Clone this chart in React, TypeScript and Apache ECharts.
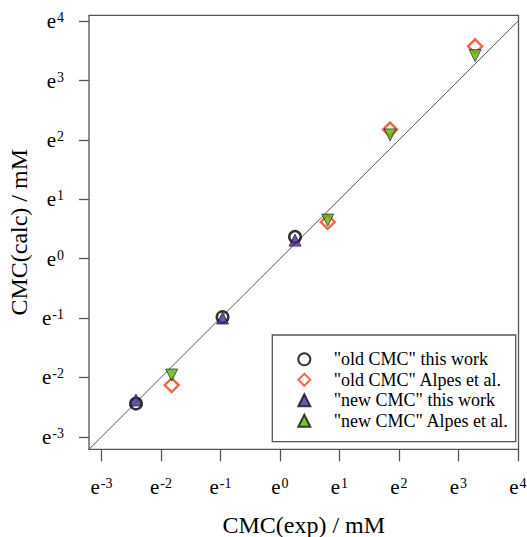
import React, { useEffect, useRef } from "react";
import * as echarts from "echarts";

// CMC values in mM (exp on x, calc on y)
const oldThisWork: [number, number][] = [
  [0.0889, 0.0872],
  [0.381, 0.375],
  [1.288, 1.445],
];
const oldAlpes: [number, number][] = [
  [0.162, 0.119],
  [2.232, 1.859],
  [6.37, 8.81],
  [26.6, 35.8],
];
const newThisWork: [number, number][] = [
  [0.0889, 0.0926],
  [0.381, 0.368],
  [1.288, 1.368],
];
const newAlpes: [number, number][] = [
  [0.162, 0.141],
  [2.232, 1.916],
  [6.37, 8.05],
  [26.6, 30.6],
];
const tickExponents = [-3, -2, -1, 0, 1, 2, 3, 4];
const seriesNames = [
  '"old CMC" this work',
  '"old CMC" Alpes et al.',
  '"new CMC" this work',
  '"new CMC" Alpes et al.',
];
const xTitle = "CMC(exp) / mM";
const yTitle = "CMC(calc) / mM";

const FONT = "Liberation Serif";
const AXIS_COLOR = "#555555";

export default function App() {
  const ref = useRef<HTMLDivElement>(null);
  useEffect(() => {
    if (!ref.current) return;
    const chart = echarts.init(ref.current, undefined, { renderer: "svg" });
    const xMin = Math.exp(-3.21);
    const xMax = Math.exp(4.01);
    const yMin = Math.exp(-3.21);
    const yMax = Math.exp(4.1);
    const tickVals = tickExponents.map((n) => Math.exp(n));
    const fmt = (v: number) => `{b|e}{s|${Math.round(Math.log(v))}}`;
    const rich = {
      b: { fontSize: 21, fontFamily: FONT, color: "#000", verticalAlign: "bottom" },
      s: { fontSize: 14, fontFamily: FONT, color: "#000", verticalAlign: "top", padding: [0, 0, 0, 1] },
    };
    chart.setOption({
      animation: false,
      backgroundColor: "#fff",
      grid: {
        left: 89,
        right: 8.5,
        top: 15.3,
        bottom: 87.7,
        show: true,
        containLabel: false,
        outerBoundsMode: "none",
        borderColor: AXIS_COLOR,
        borderWidth: 1.3,
        backgroundColor: "transparent",
      },
      xAxis: {
        type: "log",
        logBase: Math.E,
        min: xMin,
        max: xMax,
        name: xTitle,
        nameLocation: "middle",
        nameGap: 64,
        nameTextStyle: { fontFamily: FONT, fontSize: 24, color: "#000" },
        axisLine: { show: false },
        splitLine: { show: false },
        axisTick: {
          show: true,
          length: 12,
          customValues: tickVals,
          lineStyle: { color: AXIS_COLOR, width: 1.3 },
        },
        axisLabel: {
          customValues: tickVals,
          formatter: fmt,
          margin: 27,
          rich,
        },
      },
      yAxis: {
        type: "log",
        logBase: Math.E,
        min: yMin,
        max: yMax,
        name: yTitle,
        nameLocation: "middle",
        nameGap: 52,
        nameTextStyle: { fontFamily: FONT, fontSize: 24, color: "#000" },
        axisLine: { show: false },
        splitLine: { show: false },
        axisTick: {
          show: true,
          length: 10,
          customValues: tickVals,
          lineStyle: { color: AXIS_COLOR, width: 1.3 },
        },
        axisLabel: {
          customValues: tickVals,
          formatter: fmt,
          margin: 25,
          rich,
        },
      },
      legend: {
        orient: "vertical",
        left: 297.3,
        top: 349.3,
        padding: 0,
        itemWidth: 12,
        itemHeight: 12,
        itemGap: 0.5,
        data: seriesNames,
        textStyle: {
          fontFamily: FONT,
          fontSize: 18,
          lineHeight: 20,
          color: "#000",
          padding: [0, 0, 0, 18.4],
        },
      },
      graphic: [
        {
          type: "rect",
          z: 3,
          shape: { x: 272.3, y: 335, width: 243.4, height: 106.7 },
          style: { fill: "#fff", stroke: AXIS_COLOR, lineWidth: 1.3 },
        },
      ],
      series: [
        {
          type: "line",
          name: "identity",
          data: [
            [xMin, xMin],
            [xMax, xMax],
          ],
          showSymbol: false,
          silent: true,
          lineStyle: { color: AXIS_COLOR, width: 1 },
          z: 1,
        },
        {
          type: "scatter",
          name: seriesNames[0],
          data: oldThisWork,
          symbol: "circle",
          symbolSize: 11.5,
          itemStyle: { color: "rgba(255,255,255,0)", borderColor: "#000", borderWidth: 2.5 },
          z: 2,
        },
        {
          type: "scatter",
          name: seriesNames[1],
          data: oldAlpes,
          symbol: "diamond",
          symbolSize: 14,
          itemStyle: { color: "#fff", borderColor: "#F0401A", borderWidth: 2.4 },
          z: 3,
        },
        {
          type: "scatter",
          name: seriesNames[2],
          data: newThisWork,
          symbol: "triangle",
          symbolSize: 12,
          itemStyle: { color: "#4A2A96", borderColor: "#111", borderWidth: 0.8 },
          z: 4,
        },
        {
          type: "scatter",
          name: seriesNames[3],
          data: newAlpes,
          symbol: "triangle",
          symbolRotate: 180,
          symbolSize: 12,
          itemStyle: { color: "#5DB30A", borderColor: "#111", borderWidth: 0.8 },
          z: 5,
        },
      ],
    });
    return () => chart.dispose();
  }, []);
  return (
    <div
      ref={ref}
      style={{ position: "fixed", left: 0, top: 0, width: 527, height: 537 }}
    />
  );
}
